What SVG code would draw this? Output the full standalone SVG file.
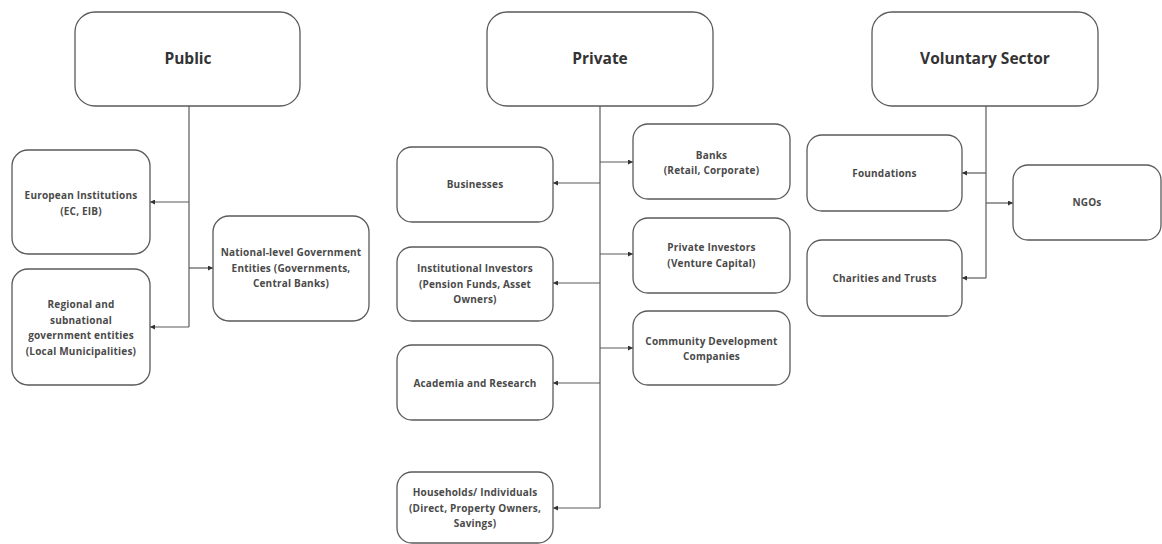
<svg xmlns="http://www.w3.org/2000/svg" width="1162" height="544" viewBox="0 0 1162 544">
<style>
.bg{fill:#ffffff}
.head rect{fill:#ffffff;stroke:#5a5a5a;stroke-width:1.3}
.node rect{fill:#ffffff;stroke:#5a5a5a;stroke-width:1.3}
.head text{font-family:"Open Sans","Liberation Sans",sans-serif;font-weight:700;font-size:15.5px;fill:#333333;text-anchor:middle}
.node text{font-family:"Open Sans","Liberation Sans",sans-serif;font-weight:700;font-size:10px;letter-spacing:0.2px;fill:#4a4a4a;text-anchor:middle}
#connectors path{fill:none;stroke:#5a5a5a;stroke-width:1.2}
</style>
<defs>
<marker id="arr" viewBox="0 0 6 6" refX="6" refY="3" markerWidth="5" markerHeight="5" markerUnits="userSpaceOnUse" orient="auto">
<path d="M0,0 L6,3 L0,6 z" fill="#333333"/>
</marker>
</defs>
<rect class="bg" x="0" y="0" width="1162" height="544"/>

<g id="connectors">
<path d="M189,106 V327"/>
<path d="M189,202 H150" marker-end="url(#arr)"/>
<path d="M189,268 H213" marker-end="url(#arr)"/>
<path d="M189,327 H150" marker-end="url(#arr)"/>

<path d="M600,106 V508"/>
<path d="M600,162 H633" marker-end="url(#arr)"/>
<path d="M600,183 H553" marker-end="url(#arr)"/>
<path d="M600,254 H633" marker-end="url(#arr)"/>
<path d="M600,283 H553" marker-end="url(#arr)"/>
<path d="M600,348 H633" marker-end="url(#arr)"/>
<path d="M600,383 H553" marker-end="url(#arr)"/>
<path d="M600,508 H553" marker-end="url(#arr)"/>

<path d="M986,106 V278"/>
<path d="M986,173 H962" marker-end="url(#arr)"/>
<path d="M986,203 H1013" marker-end="url(#arr)"/>
<path d="M986,278 H962" marker-end="url(#arr)"/>
</g>

<g id="public" class="head">
<rect x="75" y="12" width="225" height="94" rx="20"/>
<text x="188" y="64">Public</text>
</g>
<g id="european" class="node">
<rect x="12" y="150" width="138" height="104" rx="16"/>
<text x="81" y="199">European Institutions</text>
<text x="81" y="214.5">(EC, EIB)</text>
</g>
<g id="national" class="node">
<rect x="213" y="216" width="156" height="105" rx="16"/>
<text x="291" y="256">National-level Government</text>
<text x="291" y="271.5">Entities (Governments,</text>
<text x="291" y="287">Central Banks)</text>
</g>
<g id="regional" class="node">
<rect x="12" y="269" width="138" height="116" rx="16"/>
<text x="81" y="308">Regional and</text>
<text x="81" y="323.5">subnational</text>
<text x="81" y="339">government entities</text>
<text x="81" y="354.5">(Local Municipalities)</text>
</g>

<g id="private" class="head">
<rect x="487" y="12" width="226" height="94" rx="20"/>
<text x="600" y="64">Private</text>
</g>
<g id="banks" class="node">
<rect x="633" y="124" width="157" height="75" rx="15"/>
<text x="711.5" y="158.5">Banks</text>
<text x="711.5" y="174">(Retail, Corporate)</text>
</g>
<g id="businesses" class="node">
<rect x="397" y="147" width="156" height="75" rx="15"/>
<text x="475" y="188">Businesses</text>
</g>
<g id="privateinvestors" class="node">
<rect x="633" y="218" width="157" height="75" rx="15"/>
<text x="711.5" y="251">Private Investors</text>
<text x="711.5" y="266.5">(Venture Capital)</text>
</g>
<g id="institutional" class="node">
<rect x="397" y="247" width="156" height="74" rx="15"/>
<text x="475" y="272">Institutional Investors</text>
<text x="475" y="287.5">(Pension Funds, Asset</text>
<text x="475" y="303">Owners)</text>
</g>
<g id="community" class="node">
<rect x="633" y="311" width="157" height="74" rx="15"/>
<text x="711.5" y="344.5">Community Development</text>
<text x="711.5" y="360">Companies</text>
</g>
<g id="academia" class="node">
<rect x="397" y="345" width="156" height="75" rx="15"/>
<text x="475" y="386.5">Academia and Research</text>
</g>
<g id="households" class="node">
<rect x="397" y="472" width="156" height="71" rx="15"/>
<text x="475" y="496">Households/ Individuals</text>
<text x="475" y="511.5">(Direct, Property Owners,</text>
<text x="475" y="527">Savings)</text>
</g>

<g id="voluntary" class="head">
<rect x="872" y="12" width="226" height="94" rx="20"/>
<text x="985" y="64">Voluntary Sector</text>
</g>
<g id="foundations" class="node">
<rect x="807" y="135" width="155" height="76" rx="15"/>
<text x="884.5" y="176.5">Foundations</text>
</g>
<g id="ngos" class="node">
<rect x="1013" y="165" width="148" height="75" rx="15"/>
<text x="1087" y="206">NGOs</text>
</g>
<g id="charities" class="node">
<rect x="807" y="240" width="155" height="76" rx="15"/>
<text x="884.5" y="281.5">Charities and Trusts</text>
</g>
</svg>
